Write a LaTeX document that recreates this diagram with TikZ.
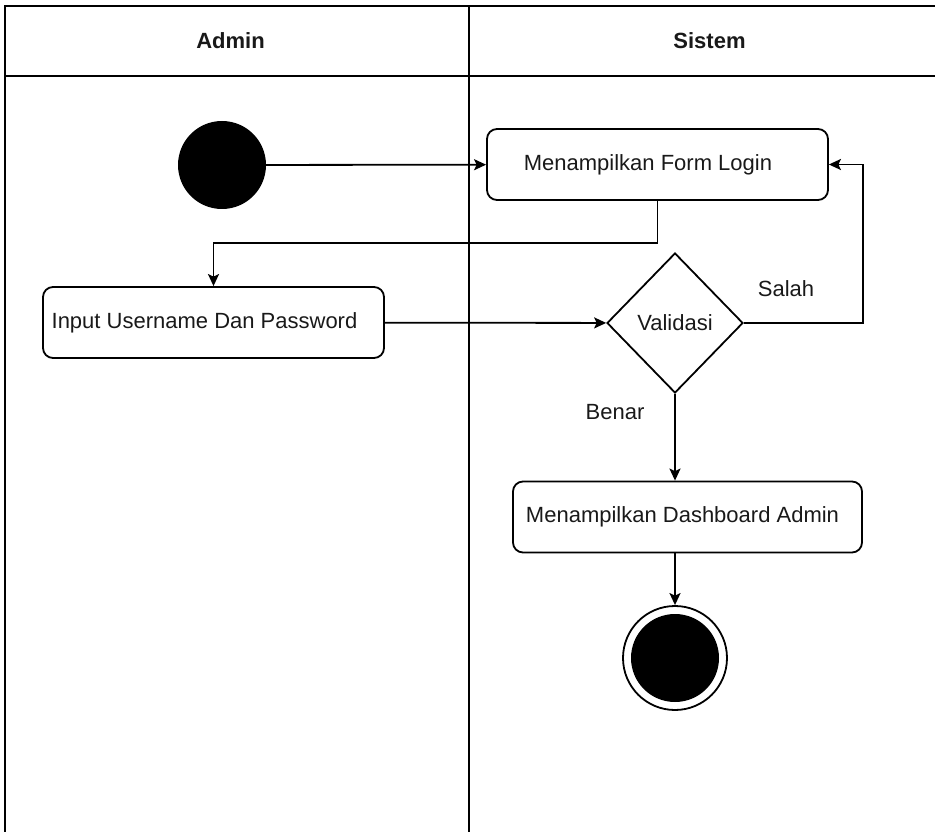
\documentclass[tikz,border=0pt]{standalone}
\usepackage{fontspec}
\setmainfont{Liberation Sans}
\usetikzlibrary{arrows.meta,shapes.geometric}
\begin{document}
\begin{tikzpicture}[x=1pt,y=-1pt,
  every node/.style={font=\fontsize{22}{26}\selectfont, text=black!90},
  lane/.style={line width=1.6pt},
  action/.style={draw, line width=1.8pt, rounded corners=10pt,
    minimum height=71pt, inner sep=0pt},
  decision/.style={draw, diamond, line width=1.8pt, inner sep=0pt,
    minimum width=136pt, minimum height=140pt},
  initial/.style={circle, fill=black, minimum size=88pt, inner sep=0pt},
  final/.style={circle, draw, line width=1.8pt, minimum size=104pt, inner sep=0pt},
  lanetitle/.style={font=\fontsize{22}{26}\selectfont\bfseries},
  arr/.style={line width=1.8pt, -{Stealth[length=12pt,width=11pt,inset=2.5pt]}}
]
\useasboundingbox (0,0) rectangle (935,832);
\clip (0,0) rectangle (935,832);

% swimlanes
\draw[lane] (5,860) -- (5,6) -- (980,6);
\draw[lane] (5,76) -- (980,76);
\draw[lane] (469,6) -- (469,860);
\node[lanetitle] (admin) at (230.5,41) {Admin};
\node[lanetitle] (sistem) at (709.5,41) {Sistem};

% activity nodes
\node[initial] (start) at (222,165) {};
\node[action, minimum width=341pt] (form) at (657.5,164.5)
  {Menampilkan Form Login\hspace*{19pt}};
\node[action, minimum width=341pt] (input) at (213.5,322.5)
  {Input Username Dan Password\hspace*{18pt}};
\node[decision] (val) at (675,323) {Validasi};
\node[action, minimum width=349pt] (dash) at (687.5,517)
  {Menampilkan Dashboard Admin\hspace*{10pt}};
\node[final] (end) at (675,658) {};
\fill (end.center) circle (44pt);

% guard labels
\node (salah) at (786,289) {Salah};
\node (benar) at (615,412) {Benar};

% control flow
\draw[arr] (start) -- (form);
\draw[arr] (form.south) -- ++(0,42) -| (input.north);
\draw[arr] (input) -- (val);
\draw[arr] (val.east) -- ++(119,0) |- (form.east);
\draw[arr] (val.south) -- (val.south |- dash.north);
\draw[arr] (end.north |- dash.south) -- (end.north);
\end{tikzpicture}
\end{document}
